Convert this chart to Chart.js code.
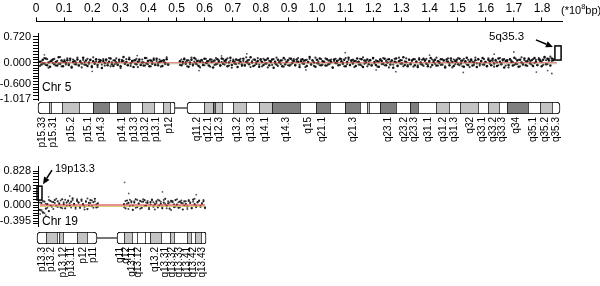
<!DOCTYPE html>
<html>
<head>
<meta charset="utf-8">
<script src="https://cdn.jsdelivr.net/npm/chart.js@4.4.1/dist/chart.umd.min.js"></script>
<style>
  body { margin: 0; background: #fff; }
  #wrap { position: relative; width: 600px; height: 286px; overflow: hidden;
          font-family: "Liberation Sans", Arial, sans-serif; color: #000; }
  canvas { position: absolute; left: 0; }
  .lbl { position: absolute; white-space: nowrap; line-height: 1; }
</style>
</head>
<body>
<div id="wrap">
  <canvas id="axisTop" width="600" height="48" style="top:-1px"></canvas>
  <canvas id="chr5Plot" width="600" height="87" style="top:23px"></canvas>
  <canvas id="chr5Ideo" width="600" height="48" style="top:102px"></canvas>
  <canvas id="chr19Plot" width="600" height="80" style="top:156px"></canvas>
  <canvas id="chr19Ideo" width="600" height="54" style="top:232px"></canvas>
  <div class="lbl" style="left:561px;top:3px;font-size:11px">(*10<span style="font-size:7.5px;vertical-align:5px">8</span>bp)</div>
  <div class="lbl" style="left:42px;top:81px;font-size:12px">Chr 5</div>
  <div class="lbl" style="left:42px;top:215px;font-size:12px">Chr 19</div>
  <div class="lbl" style="left:489px;top:31px;font-size:11.5px">5q35.3</div>
  <div class="lbl" style="left:55px;top:163px;font-size:11px">19p13.3</div>
</div>
<script>
// x axis in Mb, top labels in 10^8 bp
const xTicks = [0, 10, 20, 30, 40, 50, 60, 70, 80, 90, 100, 110, 120, 130, 140, 150, 160, 170, 180];
const xTickLabels = ['0', '0.1', '0.2', '0.3', '0.4', '0.5', '0.6', '0.7', '0.8', '0.9',
                     '1.0', '1.1', '1.2', '1.3', '1.4', '1.5', '1.6', '1.7', '1.8'];
const xMax = 187.12;
const plotXMin = 0.71;

// chr5 log ratio
const chr5YTicks = [0.72, 0.64, 0.56, 0.48, 0.4, 0.32, 0.24, 0.16, 0.08, 0, -0.075, -0.15, -0.225, -0.3,
                    -0.375, -0.45, -0.525, -0.6, -0.68, -0.76, -0.84, -0.92, -1.017];
const chr5YLabels = [0.72, 0, -0.6, -1.017];
const chr5PArm = [1.4, 47.0];
const chr5QArm = [51.2, 184.0];
const chr5P = [.03,-.05,.08,-.02,.12,-.07,.01,-.11,.05,.09,-.04,.02,-.08,.15,-.03,.06,-.1,.04,-.01,.07,
  -.06,.11,-.13,.02,.05,-.04,.09,-.08,.03,-.02,.14,-.05,.06,-.09,.01,.08,-.12,.04,-.03,.1,
  -.06,.02,.07,-.15,.05,-.01,.09,-.07,.03,.12,-.04,-.09,.06,.01,-.05,.08,-.1,.04,.16,-.03,
  .02,-.07,.1,-.02,.05,-.12,.07,-.04,.03,.09,-.06,.01,-.08,.13,-.02,.05,-.1,.06,-.03,.08,
  -.05,.11,-.07,.02,.04,-.09,.07,-.01,.1,-.04];
const chr5PB = [-.09,.04,-.02,.13,-.06,.1,-.14,.03,.07,-.01,
  .11,-.08,.05,-.03,.16,-.1,.02,.08,-.05,.12,
  -.02,.06,-.11,.09,-.04,.01,.14,-.07,.05,-.13,
  .08,.02,-.06,.11,-.03,.07,-.09,.15,-.01,.04,
  -.12,.09,.03,-.05,.1,-.08,.06,-.02,.13,-.1,
  .01,.07,-.04,.12,-.07,.03,-.15,.08,.05,-.02,
  .1,-.06,.14,-.09,.02,.06,-.03,.11,-.12,.04,
  -.05,.09,.01,-.08,.13,-.04,.07,-.1,.03,.12,
  -.07,.05,-.01,.09,-.11,.06,.02,-.04,.15,-.06];
const chr5Q = [.04,-.07,.02,.1,-.03,.06,-.11,.01,.08,-.05,
  .13,-.02,.05,-.09,.03,.07,-.06,.11,-.01,.04,
  -.08,.09,.02,-.13,.06,-.04,.1,.03,-.07,.12,
  -.03,.05,.08,-.1,.01,.14,-.06,.04,-.02,.09,
  -.12,.07,.03,-.05,.11,-.08,.02,.06,-.04,.15,
  .01,-.09,.08,-.03,.05,-.11,.1,.02,-.06,.07,
  -.02,.12,-.07,.04,.09,-.14,.03,-.05,.08,.01,
  .06,-.1,.13,-.04,.02,.07,-.08,.11,-.01,.05,
  -.06,.09,.03,-.12,.04,.1,-.03,.07,-.09,.02,
  .16,-.05,.06,.01,-.11,.08,-.02,.12,-.07,.04,
  .03,-.08,.1,-.04,.06,.02,-.13,.09,-.01,.05,
  -.07,.11,.04,-.03,.08,-.1,.02,.14,-.06,.07,
  -.02,.05,-.09,.12,.03,-.05,.1,-.12,.06,.01,
  .09,-.04,.07,-.08,.13,.02,-.06,.04,-.11,.08,
  .05,-.03,.11,-.07,.01,.1,-.05,.06,-.14,.03,
  .12,-.09,.04,.07,-.02,.15,-.06,.02,-.1,.08,
  -.04,.06,.1,-.07,.03,-.12,.09,.01,-.05,.11,
  .07,-.03,-.1,.05,.13,-.06,.02,.08,-.08,.04,
  -.01,.1,-.05,.06,-.13,.09,.03,-.07,.12,.02,
  -.09,.05,.08,-.04,.11,-.02,.06,-.11,.04,.14,
  -.06,.03,.09,-.08,.01,.07,-.12,.1,-.03,.05,
  .13,-.05,.02,-.1,.08,.04,-.07,.11,-.02,.06,
  -.09,.12,.03,-.04,.09,-.13,.05,.07,-.06,.1,
  .02,-.08,.14,-.03,.06,-.11,.08,.01,-.05,.12,
  -.07,.04,.1,-.02,.07,-.09,.13,.03,-.06,.09,
  .05,-.1,.08,.16,-.04,.11,.06,-.08,.12,.07];
const chr5QB = [-.06,.09,-.03,.12,.02,-.1,.07,-.04,.14,-.08,
  .03,.1,-.05,.06,-.13,.08,.01,-.07,.11,-.02,
  .05,-.11,.09,.04,-.06,.13,-.03,.07,-.09,.02,
  .1,-.05,.01,.12,-.08,.06,-.14,.09,.03,-.04,
  .07,-.02,.11,-.09,.05,-.06,.15,-.01,.08,-.12,
  .04,.09,-.07,.02,.13,-.05,.06,-.1,.11,-.03,
  .08,-.13,.05,.01,-.06,.1,-.02,.14,-.09,.03,
  -.04,.07,-.11,.09,.02,-.07,.12,-.05,.06,.1,
  -.08,.03,.13,-.06,.09,-.02,.05,-.12,.08,.01,
  .11,-.04,.07,-.09,.14,-.01,.04,-.07,.1,-.05,
  .02,.12,-.08,.06,-.03,.09,-.14,.05,.11,-.02,
  .07,-.06,.1,.01,-.1,.13,-.04,.08,-.07,.03,
  .09,-.12,.05,.02,-.05,.11,-.08,.15,-.03,.06,
  -.1,.04,.08,-.06,.12,-.02,.07,-.11,.03,.1,
  -.04,.13,-.07,.05,.09,-.13,.02,.06,-.05,.11,
  .01,-.08,.14,-.03,.07,-.1,.04,.12,-.06,.09,
  -.02,.06,-.11,.1,.03,-.07,.13,-.04,.08,-.09,
  .05,.11,-.05,.02,-.12,.09,.06,-.03,.14,-.08,
  .03,-.06,.1,.07,-.1,.04,.12,-.02,.06,-.13,
  .09,-.04,.02,.13,-.07,.05,-.1,.11,.01,-.05,
  .08,-.12,.06,.03,-.06,.14,-.02,.09,-.08,.04,
  -.05,.1,.02,-.09,.12,-.03,.07,.05,-.11,.08,
  .01,-.07,.13,-.02,.06,.1,-.08,.04,-.13,.09,
  .06,.02,-.06,.11,-.04,.08,-.1,.15,-.03,.07,
  .04,-.09,.12,.05,-.05,.1,-.01,.08,-.07,.13,
  .09,.03,-.06,.14,.07,-.04,.11,.17,.05,.1];
const chr5OutX = [3, 20, 36, 58, 75, 96, 110, 128, 140, 152, 163, 170, 178, 183.5, 182, 66, 121];
const chr5OutY = [0.22, -0.24, 0.2, -0.22, 0.25, -0.2, 0.28, -0.25, 0.21, -0.27, 0.24, 0.3, -0.26, -0.3, -0.22, 0.19, -0.2];
const chr5Line = [1.4, 185.3];
const chr5Box = [184.6, 186.8, 0.075, 0.47];

// chr19 log ratio
const chr19YTicks = [0.828, 0.76, 0.69, 0.62, 0.55, 0.47, 0.4, 0.33, 0.27, 0.2, 0.13, 0.07, 0,
                     -0.07, -0.13, -0.2, -0.26, -0.33, -0.395, -0.46];
const chr19YLabels = [0.828, 0.4, 0, -0.395];
const chr19PArm = [1.4, 22.0];
const chr19QArm = [31.3, 60.1];
const chr19P = [-.12,.05,-.18,.08,-.09,.02,-.15,.1,-.04,.07,.12,-.03,.09,.04,-.06,.14,.02,-.08,.06,.11,
  -.02,.08,.16,.03,-.05,.1,.06,-.07,.13,.01,-.04,.09,-.1,.05,.12,-.03,.07,.15,-.06,.04];
const chr19PB = [.06,-.14,.1,-.2,.03,-.07,.12,-.02,.08,-.1,.05,.15,-.05,.02,.11,-.08,.07,.13,-.03,.09,
  .04,-.06,.12,.01,-.09,.14,.06,-.04,.1,.03,-.11,.08,.16,-.02,.05,.11,-.07,.09,.02,-.05];
const chr19Q = [.02,-.08,.11,.05,-.03,.09,-.12,.06,.14,-.05,.03,.1,-.07,.08,.12,-.02,.05,-.1,.07,.13,
  -.04,.02,.09,-.06,.11,.03,-.08,.06,.15,-.02,.04,-.09,.1,.07,-.05,.12,.01,-.07,.08,.05,
  -.11,.09,.03,-.04,.1,.06,-.08,.13,.02,-.05,.07,.11,-.03,.04,.09,-.06];
const chr19QB = [-.05,.1,.03,-.1,.13,.06,-.02,.09,-.07,.12,.04,-.09,.08,.14,-.03,.06,.1,-.06,.02,.11,
  .07,-.11,.05,.13,-.01,.08,-.05,.12,.03,-.08,.09,.06,-.12,.1,.02,-.04,.14,.07,-.06,.11,
  .04,-.02,.09,-.1,.12,.05,-.07,.08,.15,-.03,.06,.1,-.05,.03,.12,-.08];
const chr19OutX = [1.5, 2.5, 3.5, 4.5, 2, 31.5, 33, 45, 57, 12];
const chr19OutY = [-0.22, -0.18, -0.25, 0.2, -0.12, 0.55, 0.28, 0.32, 0.25, 0.22];
const chr19Line = [1.4, 60.1];
const chr19Box = [0.36, 2.13, 0.12, 0.46];

// ideogram bands (Mb) and stain: w = gneg, l = light, d = dark
const chr5Bands = ['p15.33','p15.32','p15.31','p15.2','p15.1','p14.3','p14.2','p14.1','p13.3','p13.2','p13.1','p12','p11',
  'q11.2','q12.1','q12.2','q12.3','q13.1','q13.2','q13.3','q14.1','q14.3','q15','q21.1','q21.2','q21.3','q22.1','q22.2','q22.3',
  'q23.1','q23.2','q23.3','q31.1','q31.2','q31.3','q32','q33.1','q33.2','q33.3','q34','q35.1','q35.2','q35.3'];
const chr5Start = [0.71,4.62,5.34,9.25,15.30,20.28,25.97,28.82,33.44,37.71,41.98,45.18,47.67,
  53.72,59.77,62.97,63.68,66.17,70.08,74.71,79.33,83.96,93.92,99.61,104.59,109.93,115.26,117.75,118.46,
  122.38,128.07,133.05,135.89,142.30,146.92,150.84,157.24,160.80,164.71,167.56,175.03,179.30,183.56];
const chr5End = [4.62,5.34,9.25,15.30,20.28,25.97,28.82,33.44,37.71,41.98,45.18,47.67,49.45,
  59.77,62.97,63.68,66.17,70.08,74.71,79.33,83.96,93.92,99.61,104.59,109.93,115.26,117.75,118.46,122.38,
  128.07,133.05,135.89,142.30,146.92,150.84,157.24,160.80,164.71,167.56,175.03,179.30,183.56,186.41];
const chr5Stain = ['w','l','w','l','w','d','w','d','w','l','w','l','w',
  'w','l','d','l','w','l','w','l','d','w','d','w','d','w','l','w',
  'd','w','d','w','l','w','l','w','l','w','d','w','l','w'];
const chr5Labels = ['p15.33','p15.31','p15.2','p15.1','p14.3','p14.1','p13.3','p13.2','p13.1','p12',
  'q11.2','q12.1','q12.3','q13.2','q13.3','q14.1','q14.3','q15','q21.1','q21.3','q23.1','q23.2','q23.3',
  'q31.1','q31.2','q31.3','q32','q33.1','q33.2','q33.3','q34','q35.1','q35.2','q35.3'];
const chr5LabelPos = [2.13,6.05,12.45,18.5,23.12,30.59,34.86,39.0,42.9,47.3,
  57.2,61.3,65.2,71.7,76.7,81.7,88.9,96.8,102.0,112.7,125.3,130.9,134.6,
  139.6,144.7,148.7,154.4,158.9,162.7,165.9,171.0,176.9,181.3,185.2];

const chr19Bands = ['p13.3','p13.2','p13.13','p13.12','p13.11','p12','p11',
  'q11','q12','q13.11','q13.12','q13.13','q13.2','q13.31','q13.32','q13.33','q13.41','q13.42','q13.43','q13.43'];
const chr19Start = [0.36,3.56,7.47,8.18,9.61,14.59,18.14,
  28.82,31.31,34.15,35.93,38.78,40.56,44.47,47.67,49.09,53.72,55.14,56.56,58.70];
const chr19End = [3.56,7.47,8.18,9.61,14.59,18.14,21.70,
  31.31,34.15,35.93,38.78,40.56,44.47,47.67,49.09,53.72,55.14,56.56,58.70,60.48];
const chr19Stain = ['w','l','w','l','w','l','w',
  'w','l','w','w','w','l','w','l','w','l','w','l','w'];
const chr19Labels = ['p13.3','p13.2','p13.12','p13.11','p12','p11',
  'q11','q12','q13.11','q13.12','q13.2','q13.31','q13.32','q13.33','q13.41','q13.42','q13.43'];
const chr19LabelPos = [2.13,5.34,9.61,12.45,16.72,20.28,
  29.88,32.02,34.15,36.29,42.33,45.89,48.38,50.87,53.72,55.85,59.05];

const stainColors = { w: '#ffffff', l: '#c4c4c4', d: '#7f7f7f' };

Chart.defaults.font.family = '"Liberation Sans", Arial, sans-serif';
Chart.defaults.color = '#000';

function spread(arm, ys) {
    // probes are evenly spaced along the arm
    return ys.map((y, i) => ({ x: arm[0] + (arm[1] - arm[0]) * i / (ys.length - 1), y: y }));
}

function pairs(xs, ys) {
    return xs.map((x, i) => ({ x: x, y: ys[i] }));
}

function lineDs(xr, y, color) {
    return {
        data: [{ x: xr[0], y: y }, { x: xr[1], y: y }],
        showLine: true, borderColor: color, borderWidth: 1, pointRadius: 0
    };
}

function dotDs(points, color, r) {
    return { data: points, backgroundColor: color, borderWidth: 0, pointRadius: r, pointHoverRadius: 0 };
}

function boxPlugin(box, tipFn) {
    return {
        id: 'regionBox',
        afterDatasetsDraw(chart) {
            const ctx = chart.ctx;
            const x = chart.scales.x, y = chart.scales.y;
            const l = x.getPixelForValue(box[0]), r = x.getPixelForValue(box[1]);
            const t = y.getPixelForValue(box[3]), b = y.getPixelForValue(box[2]);
            ctx.save();
            ctx.strokeStyle = '#000';
            ctx.lineWidth = 1.5;
            ctx.strokeRect(l, t, r - l, b - t);

            // arrow pointing at the box
            const a = tipFn(l, t, r, b);
            const ang = Math.atan2(a.ty - a.fy, a.tx - a.fx);
            const hl = 7, hw = 3.2;
            const bx = a.tx - hl * Math.cos(ang), by = a.ty - hl * Math.sin(ang);
            ctx.lineWidth = 1.5;
            ctx.beginPath();
            ctx.moveTo(a.fx, a.fy);
            ctx.lineTo(bx, by);
            ctx.stroke();
            ctx.fillStyle = '#000';
            ctx.beginPath();
            ctx.moveTo(a.tx, a.ty);
            ctx.lineTo(bx + hw * Math.sin(ang), by - hw * Math.cos(ang));
            ctx.lineTo(bx - hw * Math.sin(ang), by + hw * Math.cos(ang));
            ctx.closePath();
            ctx.fill();
            ctx.restore();
        }
    };
}

function plotOptions(yMin, yMax, yTicks, yLabels) {
    return {
        responsive: false,
        animation: false,
        layout: { padding: { left: 0, right: 38, top: 10, bottom: 10 } },
        plugins: { legend: { display: false }, tooltip: { enabled: false } },
        scales: {
            x: { type: 'linear', display: false, min: plotXMin, max: xMax },
            y: {
                min: yMin, max: yMax,
                afterFit: s => { s.width = 38; },
                afterBuildTicks: s => { s.ticks = yTicks.map(v => ({ value: v })); },
                ticks: {
                    autoSkip: false, padding: 2, font: { size: 11 }, color: '#000',
                    callback: v => yLabels.includes(v) ? v.toFixed(3) : ''
                },
                grid: { drawOnChartArea: false, tickLength: 5, color: '#000', lineWidth: 1 },
                border: { color: '#000', width: 1 }
            }
        }
    };
}

function ideoDatasets(names, starts, ends, stains) {
    const sets = [];
    let pEnd = 0, qStart = 0;
    names.forEach((n, i) => {
        const first = i === 0 || names[i - 1][0] !== n[0];
        const last = i === names.length - 1 || names[i + 1][0] !== n[0];
        if (n[0] === 'p' && last) pEnd = ends[i];
        if (n[0] === 'q' && first) qStart = starts[i];
        sets.push({
            data: [[starts[i], ends[i]]],
            backgroundColor: stainColors[stains[i]],
            borderColor: '#000',
            borderWidth: { top: 1, bottom: 1, left: 1, right: last ? 1 : 0 },
            borderSkipped: false,
            borderRadius: {
                topLeft: first ? 4 : 0, bottomLeft: first ? 4 : 0,
                topRight: last ? 4 : 0, bottomRight: last ? 4 : 0
            },
            grouped: false, barPercentage: 1, categoryPercentage: 1
        });
    });
    // centromere connector
    sets.push({
        data: [[pEnd, qStart]], backgroundColor: '#000', borderWidth: 0,
        grouped: false, barPercentage: 0.09, categoryPercentage: 1
    });
    return sets;
}

function ideoOptions(labels, labelPos, axisHeight) {
    return {
        indexAxis: 'y',
        responsive: false,
        animation: false,
        layout: { padding: { left: 36, right: 38, top: 0, bottom: 0 } },
        plugins: { legend: { display: false }, tooltip: { enabled: false } },
        scales: {
            x: {
                type: 'linear', min: 0, max: xMax, position: 'bottom',
                afterBuildTicks: s => { s.ticks = labelPos.map(v => ({ value: v })); },
                afterFit: s => { s.height = axisHeight; },
                ticks: {
                    autoSkip: false, minRotation: 90, maxRotation: 90, padding: 3,
                    font: { size: 10 }, color: '#000',
                    callback: (v, i) => labels[i]
                },
                grid: { display: false, drawTicks: false },
                border: { display: false }
            },
            y: { display: false }
        }
    };
}

// top genomic axis
new Chart(document.getElementById('axisTop'), {
    type: 'scatter',
    data: { datasets: [] },
    options: {
        responsive: false,
        animation: false,
        layout: { padding: { left: 36, right: 38, top: 0, bottom: 0 } },
        plugins: { legend: { display: false }, tooltip: { enabled: false } },
        scales: {
            x: {
                type: 'linear', position: 'top', min: 0, max: xMax,
                afterBuildTicks: s => { s.ticks = xTicks.map(v => ({ value: v })); },
                ticks: { autoSkip: false, maxRotation: 0, padding: 2, font: { size: 12 }, color: '#000',
                         callback: (v, i) => xTickLabels[i] },
                grid: { drawOnChartArea: false, tickLength: 4, color: '#000' },
                border: { color: '#000', width: 1 }
            },
            y: { display: false }
        }
    }
});

// chr5 scatter
new Chart(document.getElementById('chr5Plot'), {
    type: 'scatter',
    data: {
        datasets: [
            lineDs(chr5Line, 0, 'rgba(200,60,55,0.75)'),
            lineDs(chr5Line, -0.03, 'rgba(150,170,110,0.5)'),
            dotDs(spread(chr5PArm, chr5P), '#111', 1.25),
            dotDs(spread(chr5QArm, chr5Q), '#111', 1.25),
            dotDs(spread(chr5PArm, chr5PB), '#333', 1.1),
            dotDs(spread(chr5QArm, chr5QB), '#333', 1.1),
            dotDs(pairs(chr5OutX, chr5OutY), '#555', 0.9)
        ]
    },
    options: plotOptions(-1.04, 0.83, chr5YTicks, chr5YLabels),
    plugins: [boxPlugin(chr5Box, (l, t) => ({ tx: l - 2, ty: t + 1, fx: l - 19, fy: t - 6 }))]
});

// chr5 ideogram
new Chart(document.getElementById('chr5Ideo'), {
    type: 'bar',
    data: { labels: ['chr5'], datasets: ideoDatasets(chr5Bands, chr5Start, chr5End, chr5Stain) },
    options: ideoOptions(chr5Labels, chr5LabelPos, 36)
});

// chr19 scatter
new Chart(document.getElementById('chr19Plot'), {
    type: 'scatter',
    data: {
        datasets: [
            lineDs(chr19Line, 0, '#d42222'),
            lineDs(chr19Line, -0.035, 'rgba(200,190,90,0.8)'),
            dotDs(spread(chr19PArm, chr19P), '#222', 1.1),
            dotDs(spread(chr19QArm, chr19Q), '#222', 1.1),
            dotDs(spread(chr19PArm, chr19PB), '#444', 1),
            dotDs(spread(chr19QArm, chr19QB), '#444', 1),
            dotDs(pairs(chr19OutX, chr19OutY), '#666', 0.9)
        ]
    },
    options: plotOptions(-0.512, 0.951, chr19YTicks, chr19YLabels),
    plugins: [boxPlugin(chr19Box, (l, t, r) => ({ tx: r + 1, ty: t - 2, fx: r + 10, fy: t - 16 }))]
});

// chr19 ideogram
new Chart(document.getElementById('chr19Ideo'), {
    type: 'bar',
    data: { labels: ['chr19'], datasets: ideoDatasets(chr19Bands, chr19Start, chr19End, chr19Stain) },
    options: ideoOptions(chr19Labels, chr19LabelPos, 42)
});
</script>
</body>
</html>
